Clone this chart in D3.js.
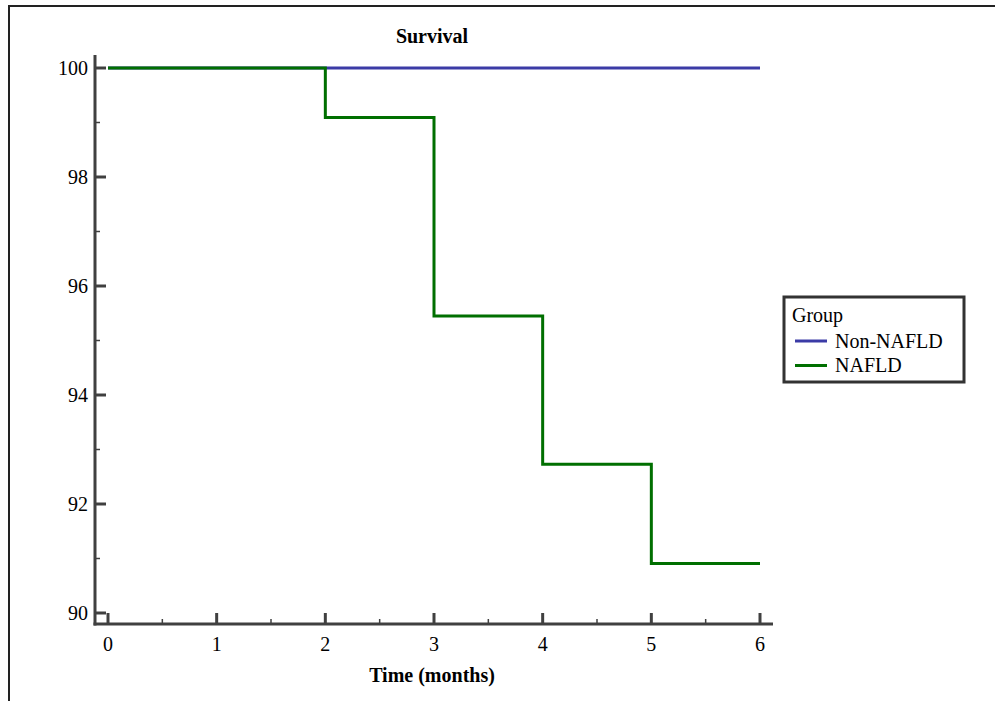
<!DOCTYPE html>
<html>
<head>
<meta charset="utf-8">
<script src="https://cdn.jsdelivr.net/npm/d3@7"></script>
<style>
  body { margin: 0; background: #fff; }
  text { font-family: "Liberation Serif", "DejaVu Serif", serif; fill: #000; }
</style>
</head>
<body>
<div id="chart"></div>
<script>
// survival data, step functions
const times = [0, 1, 2, 3, 4, 5, 6];
const nonNafld = [[0, 100], [6, 100]];
const nafld = [[0, 100], [2, 99.09], [3, 95.45], [4, 92.73], [5, 90.91], [6, 90.91]];
const yTicks = [90, 92, 94, 96, 98, 100];
const yMinor = [91, 93, 95, 97, 99];
const xMinor = [0.5, 1.5, 2.5, 3.5, 4.5, 5.5];
const groups = ["Non-NAFLD", "NAFLD"];
const colors = ["#3b3ba6", "#006f00"];

const W = 995, H = 701;
const svg = d3.select("#chart").append("svg")
    .attr("width", W)
    .attr("height", H);

// outer frame
svg.append("rect")
    .attr("x", 9).attr("y", 6)
    .attr("width", 1000).attr("height", 720)
    .attr("fill", "none")
    .attr("stroke", "#222")
    .attr("stroke-width", 2);

let x = d3.scaleLinear().domain([0, 6]).range([108, 760]);
let y = d3.scaleLinear().domain([90, 100]).range([613, 68]);

let axisColor = "#404040";
let axisLeft = 95, axisBottom = 624;
let fs = "20px";

// axis lines
svg.append("line")
    .attr("x1", axisLeft).attr("x2", axisLeft)
    .attr("y1", 55).attr("y2", axisBottom + 1.5)
    .attr("stroke", axisColor).attr("stroke-width", 3);
svg.append("line")
    .attr("x1", axisLeft - 1.5).attr("x2", 773)
    .attr("y1", axisBottom).attr("y2", axisBottom)
    .attr("stroke", axisColor).attr("stroke-width", 3);

// y ticks
svg.append("g").selectAll("line")
    .data(yTicks)
    .enter()
    .append("line")
    .attr("x1", axisLeft).attr("x2", axisLeft + 11)
    .attr("y1", d => y(d)).attr("y2", d => y(d))
    .attr("stroke", axisColor).attr("stroke-width", 3);
svg.append("g").selectAll("line")
    .data(yMinor)
    .enter()
    .append("line")
    .attr("x1", axisLeft).attr("x2", axisLeft + 5)
    .attr("y1", d => y(d)).attr("y2", d => y(d))
    .attr("stroke", axisColor).attr("stroke-width", 1.5);
svg.append("g").selectAll("text")
    .data(yTicks)
    .enter()
    .append("text")
    .attr("x", axisLeft - 7)
    .attr("y", d => y(d))
    .attr("dy", "0.33em")
    .attr("text-anchor", "end")
    .style("font-size", fs)
    .text(d => d);

// x ticks
svg.append("g").selectAll("line")
    .data(times)
    .enter()
    .append("line")
    .attr("x1", d => x(d)).attr("x2", d => x(d))
    .attr("y1", axisBottom).attr("y2", axisBottom - 11)
    .attr("stroke", axisColor).attr("stroke-width", 3);
svg.append("g").selectAll("line")
    .data(xMinor)
    .enter()
    .append("line")
    .attr("x1", d => x(d)).attr("x2", d => x(d))
    .attr("y1", axisBottom).attr("y2", axisBottom - 5)
    .attr("stroke", axisColor).attr("stroke-width", 1.5);
svg.append("g").selectAll("text")
    .data(times)
    .enter()
    .append("text")
    .attr("x", d => x(d))
    .attr("y", 651)
    .attr("text-anchor", "middle")
    .style("font-size", fs)
    .text(d => d);

// titles
svg.append("text")
    .attr("x", 432).attr("y", 43)
    .attr("text-anchor", "middle")
    .style("font-size", fs)
    .style("font-weight", "bold")
    .text("Survival");
svg.append("text")
    .attr("x", 432).attr("y", 682)
    .attr("text-anchor", "middle")
    .style("font-size", fs)
    .style("font-weight", "bold")
    .text("Time (months)");

// survival curves
let line = d3.line()
    .x(d => x(d[0]))
    .y(d => y(d[1]))
    .curve(d3.curveStepAfter);

[nonNafld, nafld].forEach((data, i) => {
    svg.append("path")
        .attr("d", line(data))
        .attr("fill", "none")
        .attr("stroke", colors[i])
        .attr("stroke-width", 3);
});

// legend
let lg = svg.append("g");
lg.append("rect")
    .attr("x", 784).attr("y", 297)
    .attr("width", 180).attr("height", 85)
    .attr("fill", "#fff")
    .attr("stroke", "#333")
    .attr("stroke-width", 3);
lg.append("text")
    .attr("x", 792).attr("y", 322)
    .style("font-size", fs)
    .text("Group");
groups.forEach((g, i) => {
    let ly = 341 + i * 24.5;
    lg.append("line")
        .attr("x1", 795).attr("x2", 827)
        .attr("y1", ly).attr("y2", ly)
        .attr("stroke", colors[i]).attr("stroke-width", 3);
    lg.append("text")
        .attr("x", 835).attr("y", ly)
        .attr("dy", "0.33em")
        .style("font-size", fs)
        .text(g);
});
</script>
</body>
</html>
